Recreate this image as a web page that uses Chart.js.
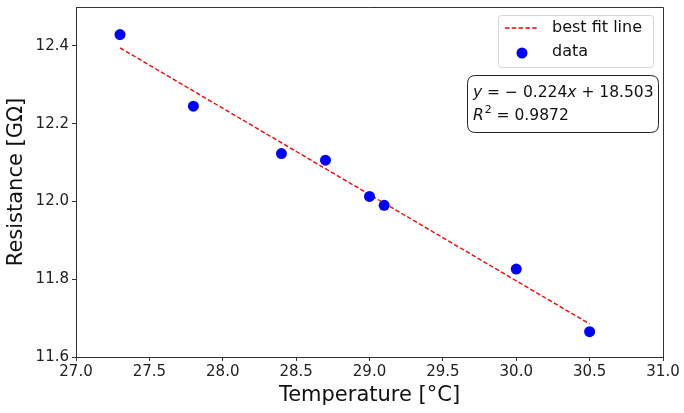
<!DOCTYPE html>
<html><head><meta charset="utf-8">
<script src="https://cdn.jsdelivr.net/npm/chart.js@4"></script>
<style>html,body{margin:0;padding:0;background:#fff;}#wrap{width:684px;height:413px;}</style>
</head><body><div id="wrap"><canvas id="c" width="684" height="413"></canvas></div>
<script>
// ---- data ----
const temperature = [27.3, 27.8, 28.4, 28.7, 29.0, 29.1, 30.0, 30.5];
const resistance  = [12.429, 12.245, 12.123, 12.106, 12.013, 11.990, 11.826, 11.665];
const fitX = [27.3, 30.5];
const fitY = [12.395, 11.685];
const xTicks = [27.0, 27.5, 28.0, 28.5, 29.0, 29.5, 30.0, 30.5, 31.0];
const yTicks = [11.6, 11.8, 12.0, 12.2, 12.4];
const xRange = [27.0, 31.0];
const yRange = [11.6, 12.5];
const xTitle = 'Temperature [°C]';
const yTitle = 'Resistance [GΩ]';
const fitLabel = 'best fit line';
const dataLabel = 'data';
const slope = '0.224', intercept = '18.503', r2 = '0.9872';

const FONT = "'DejaVu Sans', sans-serif";

const overlay = {
  id: 'overlay',
  afterDraw(chart) {
    const ctx = chart.ctx, a = chart.chartArea;
    ctx.save();
    // top & right frame
    ctx.strokeStyle = '#333'; ctx.lineWidth = 1;
    ctx.beginPath();
    ctx.moveTo(a.left, a.top + 0.5); ctx.lineTo(a.right + 0.5, a.top + 0.5); ctx.lineTo(a.right + 0.5, a.bottom);
    ctx.stroke();

    // legend box
    const rr = (x, y, w, h, r) => {
      ctx.beginPath();
      ctx.moveTo(x + r, y); ctx.lineTo(x + w - r, y); ctx.quadraticCurveTo(x + w, y, x + w, y + r);
      ctx.lineTo(x + w, y + h - r); ctx.quadraticCurveTo(x + w, y + h, x + w - r, y + h);
      ctx.lineTo(x + r, y + h); ctx.quadraticCurveTo(x, y + h, x, y + h - r);
      ctx.lineTo(x, y + r); ctx.quadraticCurveTo(x, y, x + r, y); ctx.closePath();
    };
    const lx = 498.5, ly = 15.5, lw = 155, lh = 52;
    rr(lx, ly, lw, lh, 3);
    ctx.fillStyle = 'rgba(255,255,255,0.8)'; ctx.fill();
    ctx.strokeStyle = '#d5d5d5'; ctx.lineWidth = 1; ctx.stroke();
    const ds0 = chart.data.datasets[0], ds1 = chart.data.datasets[1];
    ctx.strokeStyle = ds0.borderColor; ctx.lineWidth = ds0.borderWidth; ctx.setLineDash(ds0.borderDash);
    ctx.beginPath(); ctx.moveTo(505, 28); ctx.lineTo(538, 28); ctx.stroke();
    ctx.setLineDash([]);
    ctx.fillStyle = ds1.backgroundColor;
    ctx.beginPath(); ctx.arc(522, 53, ds1.pointRadius, 0, Math.PI * 2); ctx.fill();
    ctx.fillStyle = '#111'; ctx.font = '16px ' + FONT; ctx.textBaseline = 'middle'; ctx.textAlign = 'left';
    ctx.fillText(ds0.label, 552, 28);
    ctx.fillText(ds1.label, 552, 52);

    // equation box
    rr(467.5, 75.5, 191, 57, 8);
    ctx.fillStyle = '#fff'; ctx.fill();
    ctx.strokeStyle = '#222'; ctx.lineWidth = 1; ctx.stroke();
    const fs = 15.5;
    const segs1 = [['y', 'italic'], [' = \u2212 ' + slope, ''], ['x', 'italic'], [' + ' + intercept, '']];
    let x = 473;
    ctx.fillStyle = '#111';
    for (const [t, st] of segs1) {
      ctx.font = (st ? st + ' ' : '') + fs + 'px ' + FONT;
      ctx.fillText(t, x, 93); x += ctx.measureText(t).width;
    }
    x = 473;
    ctx.font = 'italic ' + fs + 'px ' + FONT; ctx.fillText('R', x, 116); x += ctx.measureText('R').width + 1;
    ctx.font = (fs * 0.7) + 'px ' + FONT; ctx.fillText('2', x, 110); x += ctx.measureText('2').width;
    ctx.font = fs + 'px ' + FONT; ctx.fillText(' = ' + r2, x, 116);
    ctx.restore();
  }
};

const tickFont = { family: FONT, size: 15 };
new Chart(document.getElementById('c'), {
  type: 'scatter',
  data: {
    datasets: [
      { label: fitLabel, data: fitX.map((v, i) => ({ x: v, y: fitY[i] })), showLine: true,
        borderColor: '#ff0000', borderWidth: 1.4, borderDash: [4.5, 2.3], pointRadius: 0, fill: false, order: 2 },
      { label: dataLabel, data: temperature.map((v, i) => ({ x: v, y: resistance[i] })),
        backgroundColor: '#0000ff', borderColor: '#0000ff', pointRadius: 5.5, pointBorderWidth: 0, order: 1 }
    ]
  },
  options: {
    responsive: false, animation: false,
    layout: { padding: { top: 7, right: 21, left: 0, bottom: 0 } },
    plugins: { legend: { display: false }, tooltip: { enabled: false } },
    scales: {
      x: {
        type: 'linear', min: xRange[0], max: xRange[1],
        afterBuildTicks: s => { s.ticks = xTicks.map(v => ({ value: v })); },
        afterFit: s => { s.height = 56; s.paddingLeft = 0; s.paddingRight = 0; },
        ticks: { font: tickFont, color: '#222', padding: 2, maxRotation: 0, autoSkip: false, callback: v => v.toFixed(1) },
        grid: { display: true, drawOnChartArea: false, drawTicks: true, tickLength: 4, color: '#333' },
        border: { display: true, color: '#333', width: 1 },
        title: { display: true, text: xTitle, font: { family: FONT, size: 21 }, color: '#111', padding: { top: 0, bottom: 5 } }
      },
      y: {
        type: 'linear', min: yRange[0], max: yRange[1],
        afterBuildTicks: s => { s.ticks = yTicks.map(v => ({ value: v })); },
        afterFit: s => { s.width = 76; s.paddingTop = 0; s.paddingBottom = 0; },
        ticks: { font: tickFont, color: '#222', padding: 3, autoSkip: false, callback: v => v.toFixed(1) },
        grid: { display: true, drawOnChartArea: false, drawTicks: true, tickLength: 4, color: '#333' },
        border: { display: true, color: '#333', width: 1 },
        title: { display: true, text: yTitle, font: { family: FONT, size: 21 }, color: '#111', padding: { top: 4, bottom: 0 } }
      }
    }
  },
  plugins: [overlay]
});
</script></body></html>
